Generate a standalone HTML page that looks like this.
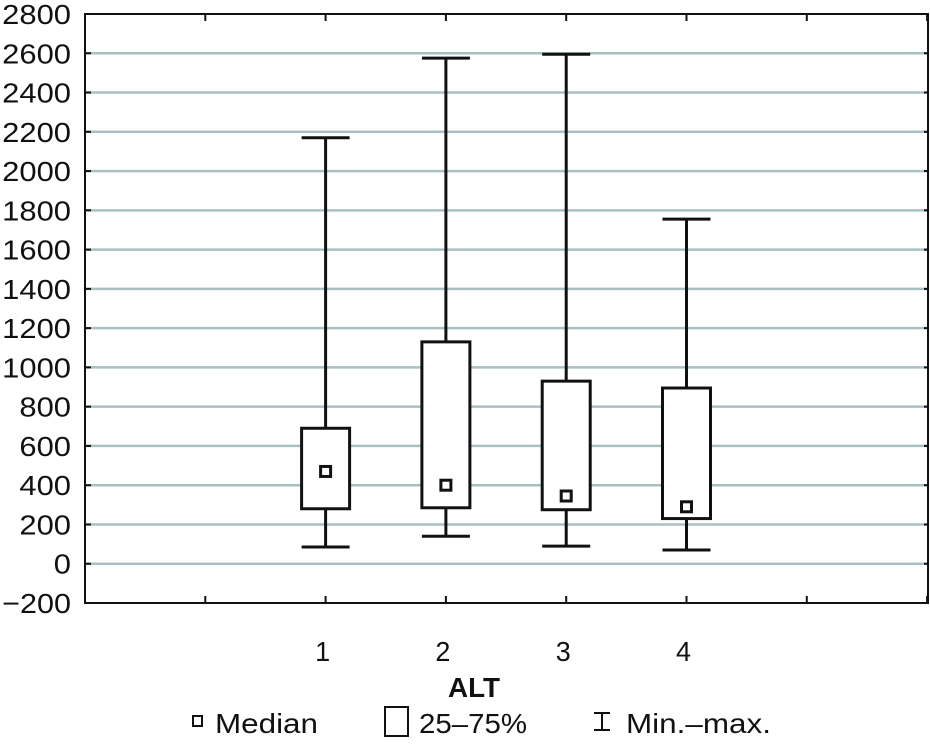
<!DOCTYPE html>
<html><head><meta charset="utf-8"><style>
body{margin:0;background:#fff;}
svg text{font-family:"Liberation Sans",sans-serif;fill:#111;}
</style></head><body>
<svg id="c" width="930" height="739" xmlns="http://www.w3.org/2000/svg"></svg>
<script>
const categories=["1","2","3","4"];
const mins=[85,140,90,70];
const q1s=[280,285,275,230];
const medians=[470,400,345,290];
const q3s=[690,1130,930,895];
const maxs=[2170,2575,2595,1755];
const yTicks=[-200,0,200,400,600,800,1000,1200,1400,1600,1800,2000,2200,2400,2600,2800];
const svg=document.getElementById('c');
const NS='http://www.w3.org/2000/svg';
const L=85,R=928,T=14,B=603;
const y=v=>B-(v+200)/3000*(B-T);
const x=i=>85+(i+2)*120.3;
function mk(t,a,p){const e=document.createElementNS(NS,t);for(const k in a)e.setAttribute(k,a[k]);(p||svg).appendChild(e);return e;}
const grid=mk('g',{});


yTicks.forEach(v=>{
  if(v>-200&&v<2800){const l=mk('line',{x1:L,x2:R,y1:y(v),y2:y(v),stroke:'#a9c0c2','stroke-width':2.5},grid);
  
  }
  const s=String(v).replace('-','\u2212');
  const t=mk('text',{x:71,y:y(v)+10,'text-anchor':'end','font-size':28,textLength:s.length*17.2,lengthAdjust:'spacingAndGlyphs'});
  t.textContent=s;
  
  
  const tk=mk('line',{x1:L,x2:L+6,y1:y(v),y2:y(v),stroke:'#111','stroke-width':2});
  
  
  const tk2=mk('line',{x1:R-4,x2:R,y1:y(v),y2:y(v),stroke:'#111','stroke-width':2});
  
  
});
const fr=mk('rect',{x:L,y:T,width:R-L,height:B-T,fill:'none',stroke:'#111','stroke-width':2});


for(let i=-1;i<=5;i++){
  const tk=mk('line',{x1:x(i),x2:x(i),y1:B,y2:B-7,stroke:'#111','stroke-width':2});
  
  
  const tk2=mk('line',{x1:x(i),x2:x(i),y1:T,y2:T+7,stroke:'#111','stroke-width':2});
  
  
}
categories.forEach((c,i)=>{
  const g=mk('g',{stroke:'#111','stroke-width':3,fill:'none'});
  
  
  const cx=x(i),w=24;
  mk('line',{x1:cx,x2:cx,y1:y(maxs[i]),y2:y(q3s[i])},g);
  mk('line',{x1:cx,x2:cx,y1:y(q1s[i]),y2:y(mins[i])},g);
  mk('line',{x1:cx-w,x2:cx+w,y1:y(maxs[i]),y2:y(maxs[i])},g);
  mk('line',{x1:cx-w,x2:cx+w,y1:y(mins[i]),y2:y(mins[i])},g);
  mk('rect',{x:cx-w,y:y(q3s[i]),width:2*w,height:y(q1s[i])-y(q3s[i]),fill:'#fff'},g);
  mk('rect',{x:cx-5,y:y(medians[i])-5,width:10,height:10,fill:'#fff'},g);
  const t=mk('text',{x:cx-3,y:661,'text-anchor':'middle','font-size':28,textLength:15,lengthAdjust:'spacingAndGlyphs'});
  t.textContent=c;
  
  
});
const xt=mk('text',{x:474,y:697,'text-anchor':'middle','font-size':28,'font-weight':'bold',textLength:52,lengthAdjust:'spacingAndGlyphs'});
xt.textContent='ALT';


const lg=mk('g',{});


mk('rect',{x:193,y:716,width:9,height:10,fill:'none',stroke:'#111','stroke-width':2},lg);
mk('rect',{x:385,y:707,width:23,height:29,fill:'none',stroke:'#111','stroke-width':2},lg);
mk('path',{d:'M594 713h16M602 713v17M594 730h16',fill:'none',stroke:'#111','stroke-width':2},lg);
[['Median',215,103],['25–75%',419,108],['Min.–max.',626,145]].forEach(([s,px,w])=>{
  const t=mk('text',{x:px,y:733,'font-size':28,textLength:w,lengthAdjust:'spacingAndGlyphs'},lg);t.textContent=s;
  
  
});
</script>
</body></html>
